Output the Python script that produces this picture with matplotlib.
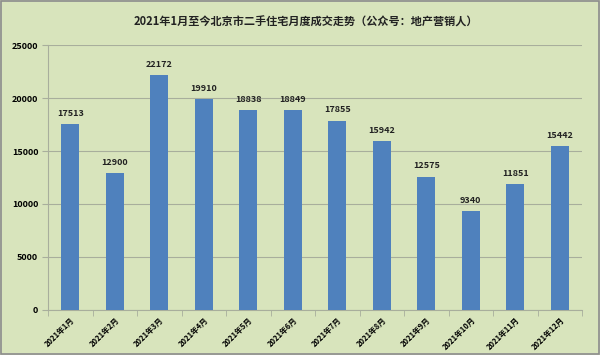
import matplotlib
matplotlib.use("Agg")
from matplotlib import pyplot as plt
import numpy as np

plt.rcParams['font.family'] = ['Noto Sans CJK SC', 'DejaVu Sans']

months = ['2021年1月', '2021年2月', '2021年3月', '2021年4月', '2021年5月', '2021年6月',
          '2021年7月', '2021年8月', '2021年9月', '2021年10月', '2021年11月', '2021年12月']
deals = [17513, 12900, 22172, 19910, 18838, 18849, 17855, 15942, 12575, 9340, 11851, 15442]
yticks = [0, 5000, 10000, 15000, 20000, 25000]

bg = '#d8e4bc'
fig = plt.figure(figsize=(6, 3.55), dpi=100, facecolor=bg)
ax = fig.add_axes([0.08, 0.127, 0.89, 0.746])
ax.set_facecolor(bg)

x = np.arange(len(months))
ax.bar(x, deals, width=0.4, color='#4f81bd', zorder=3)
for xi, v in zip(x, deals):
    ax.text(xi, v + 600, str(v), ha='center', va='bottom', fontsize=6.5,
            fontweight='bold', color='#222222')

ax.set_xlim(-0.5, len(months) - 0.5)
ax.set_ylim(0, 25000)
ax.set_yticks(yticks)
ax.set_yticklabels([str(t) for t in yticks], fontsize=6.5, fontweight='bold')
ax.yaxis.grid(True, color='#a8ae9c', linewidth=0.8, zorder=0)

ax.set_xticks(x)
ax.set_xticklabels(months, rotation=45, ha='right', rotation_mode='anchor',
                   fontsize=5.5, fontweight='bold')
ax.tick_params(axis='x', length=0, pad=4)
ax.set_xticks(np.arange(-0.5, len(months)), minor=True)
ax.tick_params(axis='x', which='minor', length=4, color='#a8ae9c')
ax.tick_params(axis='y', length=4, color='#a8ae9c', pad=3)

for s in ['top', 'right']:
    ax.spines[s].set_visible(False)
ax.spines['left'].set_color('#a8ae9c')
ax.spines['bottom'].set_color('#a8ae9c')

fig.text(0.51, 0.937, '2021年1月至今北京市二手住宅月度成交走势（公众号：地产营销人）',
         ha='center', va='center', fontsize=8, fontweight='bold', color='#222222')

# gray frame around the picture
fig.patches.append(plt.Rectangle((0.002, 0.003), 0.996, 0.994, transform=fig.transFigure,
                                 fill=False, edgecolor='#8c8c8c', linewidth=1.2))

fig.savefig('out.png', dpi=100, facecolor=bg)
